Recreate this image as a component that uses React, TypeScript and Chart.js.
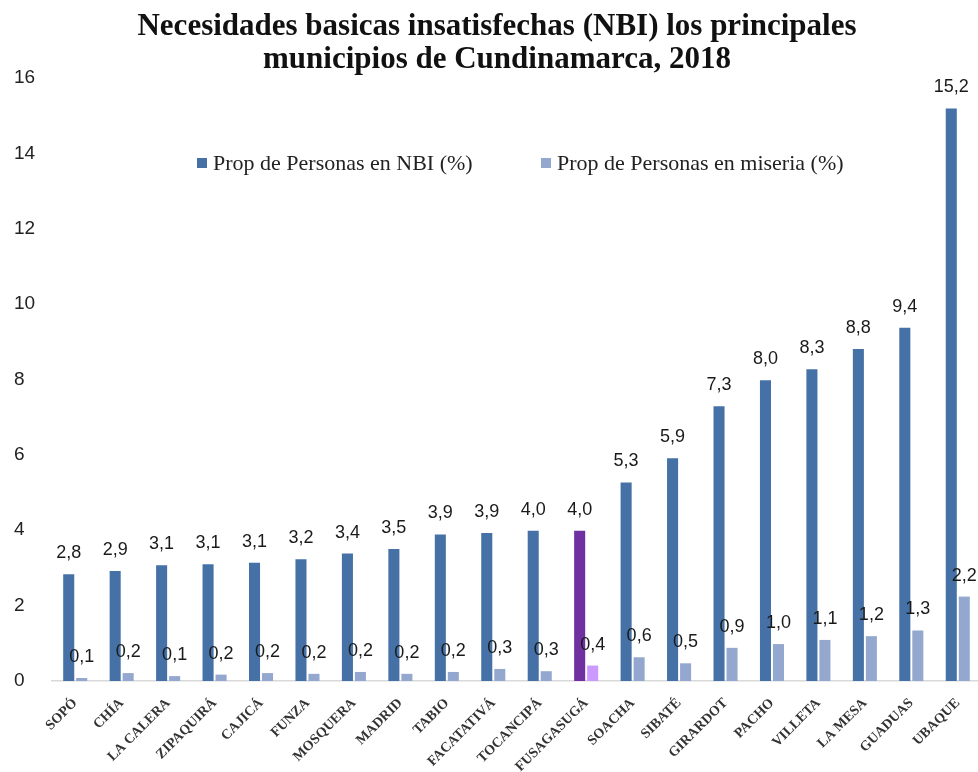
import React, { useEffect, useRef } from "react";
import { Chart, registerables } from "chart.js";

Chart.register(...registerables);

const titleLines = [
  "Necesidades basicas insatisfechas (NBI) los principales",
  "municipios de Cundinamarca, 2018",
];

const categories = [
  "SOPÓ", "CHÍA", "LA CALERA", "ZIPAQUIRÁ", "CAJICÁ", "FUNZA", "MOSQUERA",
  "MADRID", "TABIO", "FACATATIVÁ", "TOCANCIPÁ", "FUSAGASUGÁ", "SOACHA",
  "SIBATÉ", "GIRARDOT", "PACHO", "VILLETA", "LA MESA", "GUADUAS", "UBAQUE",
];

const nbiLabel = "Prop de Personas en NBI (%)";
const miseriaLabel = "Prop de Personas en miseria (%)";

const nbiValues = [
  2.83, 2.92, 3.07, 3.1, 3.14, 3.23, 3.38, 3.5, 3.89, 3.93, 3.99, 3.99, 5.27,
  5.91, 7.29, 7.98, 8.27, 8.81, 9.37, 15.19,
];

const miseriaValues = [
  0.08, 0.21, 0.13, 0.17, 0.21, 0.19, 0.24, 0.19, 0.24, 0.32, 0.26, 0.41,
  0.63, 0.47, 0.88, 0.98, 1.09, 1.19, 1.34, 2.24,
];

const highlightCategory = "FUSAGASUGÁ";

const yMin = 0;
const yMax = 16;
const yStep = 2;

const NBI_COLOR = "#4571A7";
const MIS_COLOR = "#94A8CF";
const HL_NBI = "#7030A0";
const HL_MIS = "#CC99FF";

const fmt = (v: number) => v.toFixed(1).replace(".", ",");

const decorPlugin = {
  id: "decor",
  afterDatasetsDraw(chart: any) {
    const ctx = chart.ctx;
    ctx.save();
    ctx.fillStyle = "#1a1a1a";
    ctx.font = "18px 'Liberation Sans', Arial, sans-serif";
    ctx.textAlign = "center";
    ctx.textBaseline = "middle";
    chart.data.datasets.forEach((ds: any, di: number) => {
      const meta = chart.getDatasetMeta(di);
      meta.data.forEach((el: any, i: number) => {
        ctx.fillText(fmt(ds.data[i]), el.x, el.y - 21);
      });
    });
    ctx.restore();
  },
  afterDraw(chart: any) {
    const ctx = chart.ctx;
    ctx.save();
    // title
    ctx.fillStyle = "#111111";
    ctx.font = "bold 31px 'Liberation Serif', 'Times New Roman', serif";
    ctx.textAlign = "center";
    ctx.textBaseline = "middle";
    ctx.fillText(titleLines[0], 497, 27);
    ctx.fillText(titleLines[1], 497, 60);
    // legend
    ctx.font = "22px 'Liberation Serif', 'Times New Roman', serif";
    ctx.textAlign = "left";
    const items = [
      { label: chart.data.datasets[0].label, color: NBI_COLOR, x: 197 },
      { label: chart.data.datasets[1].label, color: MIS_COLOR, x: 541 },
    ];
    items.forEach((it) => {
      ctx.fillStyle = it.color;
      ctx.fillRect(it.x, 158, 10, 10);
      ctx.fillStyle = "#222222";
      ctx.fillText(it.label, it.x + 16, 164);
    });
    ctx.restore();
  },
};

export default function App() {
  const ref = useRef<HTMLCanvasElement | null>(null);

  useEffect(() => {
    if (!ref.current) return;
    const chart = new Chart(ref.current, {
      type: "bar",
      data: {
        labels: categories,
        datasets: [
          {
            label: nbiLabel,
            data: nbiValues,
            backgroundColor: categories.map((c) =>
              c === highlightCategory ? HL_NBI : NBI_COLOR
            ),
            categoryPercentage: 0.56,
            barPercentage: 0.85,
          },
          {
            label: miseriaLabel,
            data: miseriaValues,
            backgroundColor: categories.map((c) =>
              c === highlightCategory ? HL_MIS : MIS_COLOR
            ),
            categoryPercentage: 0.56,
            barPercentage: 0.85,
          },
        ],
      },
      options: {
        animation: false,
        responsive: false,
        layout: { padding: { top: 78, left: 14, right: 0, bottom: 0 } },
        plugins: {
          legend: { display: false },
          title: { display: false },
          tooltip: { enabled: false },
        },
        scales: {
          x: {
            grid: { display: false, drawTicks: false },
            border: { display: true, color: "#D9D9D9", width: 1.5 },
            ticks: {
              autoSkip: false,
              maxRotation: 45,
              minRotation: 45,
              padding: 14,
              color: "#333333",
              font: {
                family: "'Liberation Serif', 'Times New Roman', serif",
                size: 14,
                weight: "bold",
              },
            },
            afterFit: (s: any) => {
              s.height = 91;
              s.paddingLeft = 0;
              s.paddingRight = 0;
            },
          },
          y: {
            min: yMin,
            max: yMax,
            grid: { display: false, drawTicks: false },
            border: { display: false },
            ticks: {
              stepSize: yStep,
              crossAlign: "far",
              color: "#222222",
              font: {
                family: "'Liberation Sans', Arial, sans-serif",
                size: 19,
              },
            },
            afterFit: (s: any) => {
              s.width = 38;
            },
          },
        },
      },
      plugins: [decorPlugin],
    });
    return () => chart.destroy();
  }, []);

  return (
    <div style={{ position: "absolute", left: 0, top: 0, width: 978, height: 772, overflow: "hidden", background: "#ffffff" }}>
      <canvas ref={ref} width={981} height={772} style={{ display: "block" }} />
    </div>
  );
}
